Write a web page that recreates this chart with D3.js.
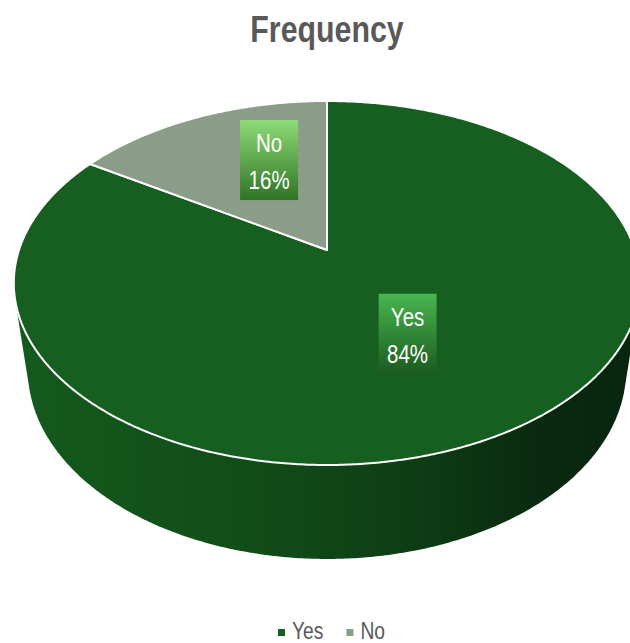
<!DOCTYPE html>
<html><head><meta charset="utf-8">
<script src="https://cdn.jsdelivr.net/npm/d3@7"></script>
<style>
html,body{margin:0;padding:0;background:#fff;overflow:hidden;}
svg{display:block;}
</style></head>
<body>
<svg id="chart" width="630" height="643"></svg>
<script>
// ---- data ----
const categories = ["Yes", "No"];
const values = [84, 16];
const percentLabels = ["84%", "16%"];
const title = "Frequency";

// ---- layout / style ----
const FONT = "'Liberation Sans', Arial, sans-serif";
const NARROW = 0.82;
const topColors = ["#175e21", "#8b9d89"];
const legendColors = ["#175e21", "#8b9d89"];
// simple perspective camera
const ox = 327, oy = 250;
const phi = Math.asin(0.5715);
const cosP = Math.cos(phi), sinP = Math.sin(phi);
const Dd = 4.526, focal = 1393.9, cylH = 0.36;
const labelRadius = [0.5, 0.6];
const labelAngleNudge = [0, 0.15];

const svg = d3.select("#chart");
const defs = svg.append("defs");

// theta: clockwise from 12 o'clock (d3.pie convention); r: radius fraction; bottom: bottom face
function proj(theta, r, bottom) {
  const X = Math.sin(theta) * r, Y = -Math.cos(theta) * r, Z = bottom ? -cylH : 0;
  const d = Dd - (Y * cosP + Z * sinP);
  return [ox + focal * X / d, oy - focal * (-Y * sinP + Z * cosP) / d];
}

const pie = d3.pie().sort(null).value(d => d)(values);
const N = 720;
const angles = d3.range(N + 1).map(i => i / N * 2 * Math.PI);

// side gradient
const sg = defs.append("linearGradient").attr("id", "sideGrad").attr("gradientUnits", "userSpaceOnUse")
  .attr("x1", 15).attr("x2", 640).attr("y1", 0).attr("y2", 0);
[[0, "#145a1d"], [0.4, "#114c18"], [0.65, "#0e3c14"], [0.82, "#0a2b0f"], [1, "#08240d"]].forEach(([o, c]) =>
  sg.append("stop").attr("offset", o).attr("stop-color", c));

// side (hull of top & bottom faces)
const pts = angles.map(a => proj(a, 1, false)).concat(angles.map(a => proj(a, 1, true)));
const hull = d3.polygonHull(pts);
svg.append("path").attr("d", "M" + hull.join("L") + "Z").attr("fill", "url(#sideGrad)");

// top slices
const line = d3.line();
pie.forEach((p, i) => {
  const steps = Math.max(2, Math.ceil((p.endAngle - p.startAngle) / (2 * Math.PI) * N));
  const arcPts = d3.range(steps + 1).map(k => proj(p.startAngle + (p.endAngle - p.startAngle) * k / steps, 1, false));
  const c = proj(0, 0, false);
  svg.append("path").attr("d", line([c].concat(arcPts)) + "Z")
    .attr("fill", topColors[i]).attr("stroke", "#ffffff").attr("stroke-width", 2).attr("stroke-linejoin", "round");
});

// label gradients
const lg = [["#48b64f", "#1c5a20"], ["#8edb78", "#2f7424"]];
lg.forEach((c, i) => {
  const g = defs.append("linearGradient").attr("id", "lab" + i).attr("x1", 0).attr("x2", 0).attr("y1", 0).attr("y2", 1);
  g.append("stop").attr("offset", 0).attr("stop-color", c[0]);
  g.append("stop").attr("offset", 1).attr("stop-color", c[1]);
});

function narrowText(parent, x, y, str, size, color, weight, anchor) {
  return parent.append("text")
    .attr("transform", `translate(${x},${y}) scale(${NARROW},1)`)
    .attr("text-anchor", anchor || "middle").attr("fill", color)
    .attr("font-family", FONT).attr("font-size", size).attr("font-weight", weight || "normal").text(str);
}

// labels
pie.forEach((p, i) => {
  const mid = (p.startAngle + p.endAngle) / 2 + labelAngleNudge[i];
  const [lx, ly] = proj(mid, labelRadius[i], false);
  const g = svg.append("g").attr("transform", `translate(${lx},${ly})`);
  const bw = 58, bh = 80;
  g.append("rect").attr("x", -bw / 2).attr("y", -bh / 2).attr("width", bw).attr("height", bh).attr("fill", `url(#lab${i})`);
  narrowText(g, 0, -8, categories[i], 25, "#ffffff");
  narrowText(g, 0, 29, percentLabels[i], 25, "#ffffff");
});

// title
narrowText(svg, ox, 42, title, 37, "#595959", "bold");

// legend
const legend = svg.append("g").attr("transform", "translate(278,639)");
let xoff = 0;
categories.forEach((c, i) => {
  const it = legend.append("g").attr("transform", `translate(${xoff},0)`);
  it.append("rect").attr("x", 0).attr("y", -10).attr("width", 7).attr("height", 7).attr("fill", legendColors[i]);
  const t = narrowText(it, 14, 0, c, 23.5, "#595959", "normal", "start");
  xoff += 14 + t.node().getComputedTextLength() * NARROW + 23;
});
</script>
</body></html>
